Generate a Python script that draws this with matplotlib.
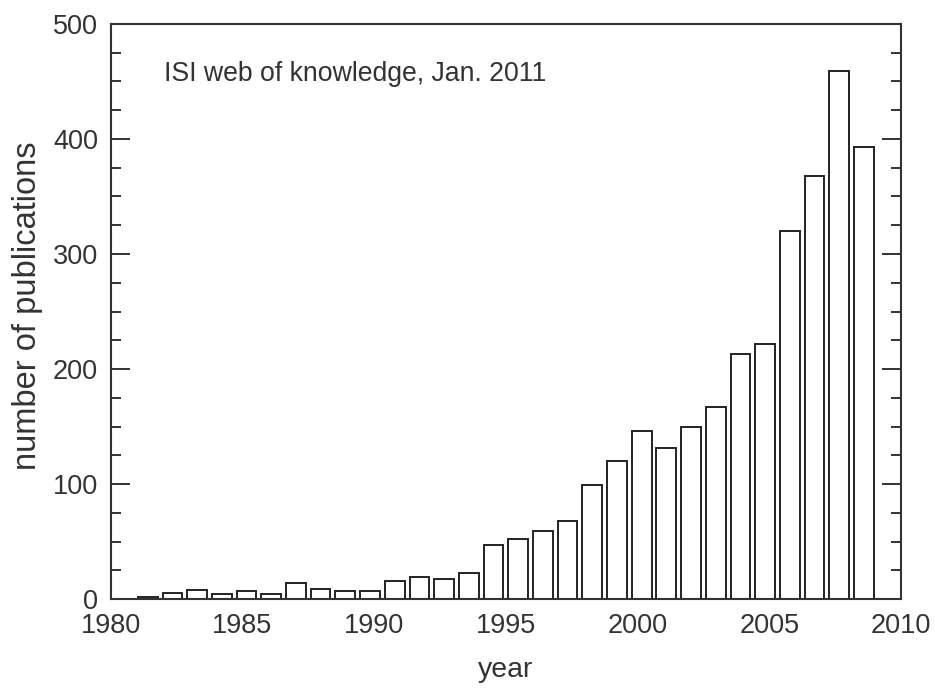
import matplotlib
matplotlib.use("Agg")
import matplotlib.pyplot as plt
from matplotlib.ticker import MultipleLocator

# publications per year, oldest bar first
counts = [2, 5, 8, 4, 7, 4, 14, 9, 7, 7, 16, 19, 17, 23, 47,
          52, 59, 68, 99, 120, 146, 131, 150, 167, 213, 222, 320, 368, 459, 393]
year_labels = ["1980", "1985", "1990", "1995", "2000", "2005", "2010"]

ink = "#333333"
plt.rcParams["font.family"] = ["Liberation Sans", "DejaVu Sans"]

fig = plt.figure(figsize=(9.35, 6.91), dpi=100)
ax = fig.add_axes([0.1184, 0.1331, 0.8452, 0.8322])

pos = list(range(len(counts)))
ax.bar(pos, counts, width=0.8, color="white", edgecolor="#222222", linewidth=1.4)

# the year axis spans 32 bar slots, labels spread evenly across it
ax.set_xlim(-1.5, 30.5)
step = 32 / (len(year_labels) - 1)
ax.set_xticks([-1.5 + i * step for i in range(len(year_labels))])
ax.set_xticklabels(year_labels)
ax.tick_params(axis="x", length=0, pad=10, labelsize=19.5, labelcolor=ink)

ax.set_ylim(0, 500)
ax.yaxis.set_major_locator(MultipleLocator(100))
ax.yaxis.set_minor_locator(MultipleLocator(25))
ax.tick_params(axis="y", which="both", direction="in", left=True, right=True,
               width=1.4, color=ink, labelsize=19.5, labelcolor=ink, pad=9)
ax.tick_params(axis="y", which="major", length=13.5)
ax.tick_params(axis="y", which="minor", length=7.5)

for s in ax.spines.values():
    s.set_linewidth(1.5)
    s.set_color(ink)

ax.set_ylabel("number of publications", fontsize=23.5, color=ink, va="center")
ax.yaxis.set_label_coords(-0.105, 0.51)
ax.set_xlabel("year", fontsize=20.5, color=ink, va="center")
ax.xaxis.set_label_coords(0.5, -0.1235)

ax.text(0.067, 0.913, "ISI web of knowledge, Jan. 2011", transform=ax.transAxes,
        fontsize=19.2, color=ink, va="center", ha="left")

fig.savefig("out.png", dpi=100)
